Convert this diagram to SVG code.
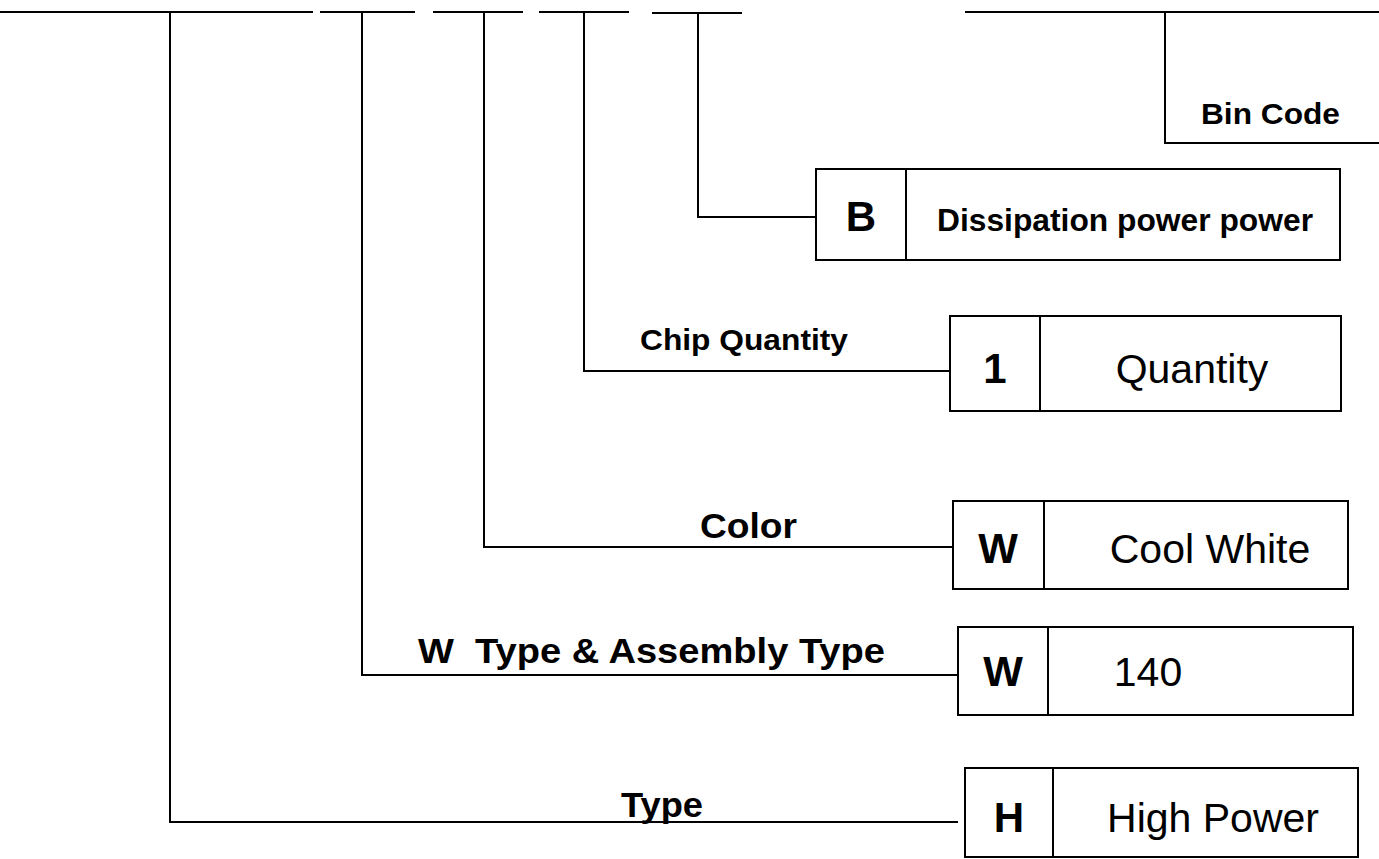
<svg xmlns="http://www.w3.org/2000/svg" width="1379" height="859" viewBox="0 0 1379 859">
<style>
.ln{stroke:#000;stroke-width:2;fill:none}
.bx{stroke:#000;stroke-width:2;fill:#fff}
.lbl{font-family:"Liberation Sans",Arial,sans-serif;font-weight:bold;fill:#000;white-space:pre}
.code{font-family:"Liberation Sans",Arial,sans-serif;font-weight:bold;font-size:42px;fill:#000;text-anchor:middle}
.desc{font-family:"Liberation Sans",Arial,sans-serif;font-size:41px;fill:#000;text-anchor:middle}
</style>
<rect width="1379" height="859" fill="#fff"/>
<g id="connectors">
<path class="ln" d="M0 12H313M320 12H415M433 12H523M539 12H629M652 13H742M965 12H1379"/>
<path class="ln" d="M170 12V822H958"/>
<path class="ln" d="M362 12V675H958"/>
<path class="ln" d="M484 12V547H953"/>
<path class="ln" d="M584 12V371H950"/>
<path class="ln" d="M698 13V217H816"/>
<path class="ln" d="M1165 12V143H1379"/>
</g>
<g id="bin-code"><text class="lbl" x="1201" y="124" font-size="30" textLength="139" lengthAdjust="spacingAndGlyphs">Bin Code</text></g>
<g id="box-b">
<rect class="bx" x="816" y="169" width="524" height="91"/>
<line class="ln" x1="906" y1="169" x2="906" y2="260"/>
<text class="code" x="861" y="231">B</text>
<text class="lbl" x="937" y="231" font-size="31" textLength="376" lengthAdjust="spacingAndGlyphs">Dissipation power power</text>
</g>
<g id="chip-quantity"><text class="lbl" x="640" y="350" font-size="30" textLength="208" lengthAdjust="spacingAndGlyphs">Chip Quantity</text></g>
<g id="box-1">
<rect class="bx" x="950" y="316" width="391" height="95"/>
<line class="ln" x1="1040" y1="316" x2="1040" y2="411"/>
<text class="code" x="995" y="383">1</text>
<text class="desc" x="1192" y="383">Quantity</text>
</g>
<g id="color"><text class="lbl" x="700" y="538" font-size="35" textLength="97" lengthAdjust="spacingAndGlyphs">Color</text></g>
<g id="box-w-color">
<rect class="bx" x="953" y="501" width="395" height="88"/>
<line class="ln" x1="1044" y1="501" x2="1044" y2="589"/>
<text class="code" x="998" y="563">W</text>
<text class="desc" x="1210" y="563">Cool White</text>
</g>
<g id="w-type"><text class="lbl" x="418" y="663" font-size="35" textLength="467" lengthAdjust="spacingAndGlyphs" xml:space="preserve">W  Type &amp; Assembly Type</text></g>
<g id="box-w-140">
<rect class="bx" x="958" y="627" width="395" height="88"/>
<line class="ln" x1="1048" y1="627" x2="1048" y2="715"/>
<text class="code" x="1003" y="686">W</text>
<text class="desc" x="1148" y="686">140</text>
</g>
<g id="type"><text class="lbl" x="621" y="817" font-size="35" textLength="82" lengthAdjust="spacingAndGlyphs">Type</text></g>
<g id="box-h">
<rect class="bx" x="965" y="768" width="393" height="89"/>
<line class="ln" x1="1053" y1="768" x2="1053" y2="857"/>
<text class="code" x="1009" y="832">H</text>
<text class="desc" x="1213" y="832">High Power</text>
</g>
</svg>
